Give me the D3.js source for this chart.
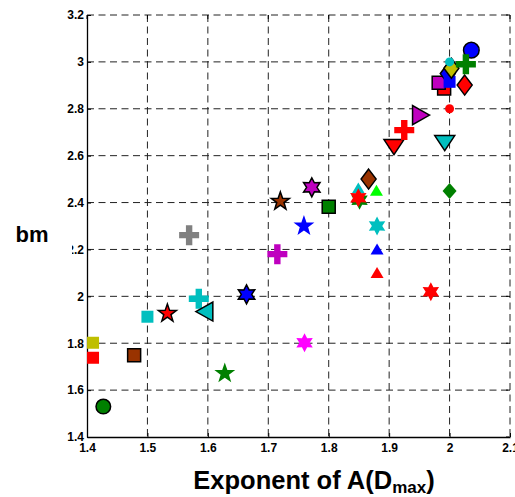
<!DOCTYPE html>
<html>
<head>
<meta charset="utf-8">
<script src="https://cdn.jsdelivr.net/npm/d3@7"></script>
<style>
  body { margin: 0; background: #fff; }
  svg { font-family: "Liberation Sans", Arial, Helvetica, sans-serif; }
</style>
</head>
<body>
<div id="chart"></div>
<script>

// x values: exponent of A(Dmax)
var exponent = [1.427, 1.410, 1.410, 1.478, 1.500, 1.533, 1.585, 1.595, 1.628, 1.664,
                1.569, 1.715, 1.720, 1.759, 1.772, 1.760, 1.800, 1.849, 1.851, 1.849,
                1.866, 1.879, 1.880, 1.880, 1.880, 1.969, 2.000, 1.908, 1.925, 1.952,
                1.992, 2.000, 1.991, 1.982, 1.997, 2.000, 2.003, 2.000, 2.025, 2.036,
                2.027];
// y values: bm
var bm = [1.530, 1.802, 1.738, 1.749, 1.913, 1.927, 1.990, 1.935, 1.671, 2.008,
          2.261, 2.180, 2.405, 2.300, 2.465, 1.802, 2.382, 2.460, 2.410, 2.420,
          2.500, 2.450, 2.300, 2.200, 2.100, 2.020, 2.449, 2.643, 2.709, 2.773,
          2.660, 2.800, 2.887, 2.911, 2.950, 2.915, 2.973, 3.000, 2.901, 3.050,
          2.990];
// marker type of each point
var markerShape = ["circle", "square", "square", "square", "square", "pentagram", "plus", "tri-left", "pentagram", "hexagram",
                   "plus", "plus", "pentagram", "pentagram", "hexagram", "hexagram", "square", "tri-up", "hexagram", "hexagram",
                   "diamond", "tri-up", "hexagram", "tri-up", "tri-up", "hexagram", "diamond", "tri-down", "plus", "tri-right",
                   "tri-down", "circle", "square", "square", "diamond", "square", "diamond", "circle", "diamond", "circle",
                   "plus"];
// colour name of each point
var markerColor = ["dgreen", "olive", "red", "brown", "cyan", "red", "cyan", "cyan", "dgreen", "blue",
                   "gray", "magenta", "brown", "blue", "magenta", "pink", "dgreen", "cyan", "dgreen", "red",
                   "brown", "lime", "cyan", "blue", "red", "red", "dgreen", "red", "red", "magenta",
                   "cyan", "red", "red", "magenta", "blue", "blue", "olive", "cyan", "red", "blue",
                   "dgreen"];
// black outline or not
var markerEdge = [1, 0, 0, 1, 0, 1, 0, 1, 0, 1,
                  0, 0, 1, 0, 1, 0, 1, 0, 0, 0,
                  1, 0, 0, 0, 0, 0, 0, 1, 0, 1,
                  1, 0, 1, 1, 1, 0, 1, 0, 1, 1,
                  0];

var xTicks = [1.4, 1.5, 1.6, 1.7, 1.8, 1.9, 2.0, 2.1];
var yTicks = [1.4, 1.6, 1.8, 2.0, 2.2, 2.4, 2.6, 2.8, 3.0, 3.2];

var palette = {
  dgreen: "#008000", olive: "#bfbf00", red: "#ff0000", brown: "#993300",
  cyan: "#00bfbf", blue: "#0000ff", gray: "#808080", magenta: "#bf00bf",
  pink: "#ff00ff", lime: "#00ff00"
};

var width = 515, height = 497;
var mLeft = 87, mRight = 510, mTop = 15, mBottom = 437;

var svg = d3.select("#chart").append("svg")
    .attr("width", width)
    .attr("height", height);

var x = d3.scaleLinear().domain([1.4, 2.1]).range([mLeft, mRight]);
var y = d3.scaleLinear().domain([1.4, 3.2]).range([mBottom, mTop]);

var fmt = function(d) { return String(+d.toFixed(1)); };

// dashed grid
svg.append("g").selectAll("line").data(xTicks.slice(1)).enter().append("line")
    .attr("x1", d => x(d)).attr("x2", d => x(d))
    .attr("y1", mTop).attr("y2", mBottom)
    .attr("stroke", "#222").attr("stroke-width", 1)
    .attr("stroke-dasharray", "7,4.5");
svg.append("g").selectAll("line").data(yTicks.slice(1)).enter().append("line")
    .attr("x1", mLeft).attr("x2", mRight)
    .attr("y1", d => y(d)).attr("y2", d => y(d))
    .attr("stroke", "#222").attr("stroke-width", 1)
    .attr("stroke-dasharray", "7,4.5");

// axes, ticks pointing inwards
var xAxis = svg.append("g")
    .attr("transform", "translate(0," + mBottom + ")")
    .call(d3.axisBottom(x).tickValues(xTicks).tickFormat(fmt).tickSizeInner(-4).tickSizeOuter(0).tickPadding(6));
var yAxis = svg.append("g")
    .attr("transform", "translate(" + mLeft + ",0)")
    .call(d3.axisLeft(y).tickValues(yTicks).tickFormat(fmt).tickSizeInner(-4).tickSizeOuter(0).tickPadding(3));
[xAxis, yAxis].forEach(function(a) {
  a.attr("font-size", 12).attr("font-family", "Liberation Sans, Arial, sans-serif");
  a.select(".domain").attr("stroke", "#000").attr("stroke-width", 1.3);
  a.selectAll(".tick line").attr("stroke", "#000");
  a.selectAll("text").attr("font-weight", "bold").attr("fill", "#000");
});

// inward ticks on the top and right edges too
svg.append("g").selectAll("line").data(xTicks).enter().append("line")
    .attr("x1", d => x(d)).attr("x2", d => x(d))
    .attr("y1", mTop).attr("y2", mTop + 4).attr("stroke", "#000");
svg.append("g").selectAll("line").data(yTicks).enter().append("line")
    .attr("x1", mRight - 4).attr("x2", mRight)
    .attr("y1", d => y(d)).attr("y2", d => y(d)).attr("stroke", "#000");

// marker path builders
function starPath(n, R, r) {
  var pts = [];
  for (var i = 0; i < 2 * n; i++) {
    var a = -Math.PI / 2 + i * Math.PI / n;
    var rr = i % 2 === 0 ? R : r;
    pts.push([rr * Math.cos(a), rr * Math.sin(a)]);
  }
  return "M" + pts.map(p => p[0].toFixed(2) + "," + p[1].toFixed(2)).join("L") + "Z";
}
function poly(pts) {
  return "M" + pts.map(p => p.join(",")).join("L") + "Z";
}
function markerPath(shape, edged) {
  switch (shape) {
    case "circle": return null;
    case "square": var s = edged ? 6.5 : 6; return poly([[-s, -s], [s, -s], [s, s], [-s, s]]);
    case "diamond": return edged ? poly([[0, -10], [7.5, 0], [0, 10], [-7.5, 0]])
                                 : poly([[0, -8], [7, 0], [0, 8], [-7, 0]]);
    case "tri-up": return poly([[0, -6], [6.5, 5], [-6.5, 5]]);
    case "tri-down": return poly([[-10, -6], [10, -6], [0, 9]]);
    case "tri-left": return poly([[-9, 0], [8, -9.5], [8, 9.5]]);
    case "tri-right": return poly([[9, 0], [-8, -9.5], [-8, 9.5]]);
    case "plus": var a = 10, t = 3.2;
      return poly([[-t, -a], [t, -a], [t, -t], [a, -t], [a, t], [t, t], [t, a], [-t, a], [-t, t], [-a, t], [-a, -t], [-t, -t]]);
    case "pentagram": return edged ? starPath(5, 9.5, 3.8) : starPath(5, 11, 4.4);
    case "hexagram": return starPath(6, 9.5, 5.2);
  }
}
function circleR(i) {
  if (!markerEdge[i]) return 4.5;
  return markerColor[i] === "blue" ? 7.8 : 7.3;
}

var points = exponent.map(function(v, i) {
  return { ex: v, bm: bm[i], shape: markerShape[i], color: palette[markerColor[i]], edge: markerEdge[i], i: i };
});

var marks = svg.append("g").selectAll("g").data(points).enter().append("g")
    .attr("transform", d => "translate(" + x(d.ex) + "," + y(d.bm) + ")");

marks.each(function(d) {
  var g = d3.select(this);
  var m;
  if (d.shape === "circle") {
    m = g.append("circle").attr("r", circleR(d.i));
  } else {
    m = g.append("path").attr("d", markerPath(d.shape, d.edge));
  }
  m.attr("fill", d.color)
   .attr("stroke", d.edge ? "#000" : "none")
   .attr("stroke-width", 1.5)
   .attr("stroke-linejoin", "miter");
});

// axis titles (the label box hides part of the 2.2 tick, as in the original)
svg.append("rect").attr("x", 8).attr("y", 218).attr("width", 64).attr("height", 40).attr("fill", "#fff");
svg.append("text")
    .attr("x", 32).attr("y", 242)
    .attr("text-anchor", "middle")
    .attr("font-size", 22).attr("font-weight", "bold")
    .text("bm");

var xl = svg.append("text")
    .attr("x", 314).attr("y", 489)
    .attr("text-anchor", "middle")
    .attr("font-size", 25.5).attr("font-weight", "bold");
xl.append("tspan").text("Exponent of A(D");
xl.append("tspan").attr("font-size", 17).attr("dy", 4).text("max");
xl.append("tspan").attr("dy", -4).text(")");

</script>
</body>
</html>
